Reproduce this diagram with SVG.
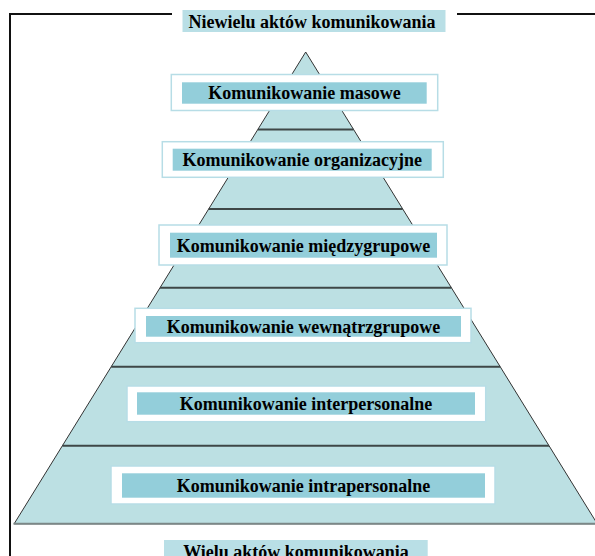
<svg xmlns="http://www.w3.org/2000/svg" width="595" height="556" viewBox="0 0 595 556">
<style>
.lbl{font-family:"Liberation Serif","Times New Roman",serif;font-weight:bold;font-size:18px;fill:#000;text-anchor:middle}
.outer{fill:#ffffff;stroke:#b7dde6;stroke-width:1.5}
.inner{fill:#93ceda}
.title{fill:#b9dfe6}
.lvl{stroke:#3e4747;stroke-width:2}
</style>
<rect width="595" height="556" fill="#ffffff"/>
<g id="frame" stroke="#111" stroke-width="2" fill="none">
<line x1="10" y1="14" x2="172" y2="14"/>
<line x1="457" y1="14" x2="595" y2="14"/>
<line x1="10" y1="13" x2="10" y2="556"/>
</g>
<g id="pyramid">
<polygon points="305.7,52 14.2,523.7 597.2,523.7" fill="#bce0e3" stroke="#333" stroke-width="1"/>
<line class="lvl" x1="257.9" y1="129.4" x2="353.5" y2="129.4"/>
<line class="lvl" x1="208.7" y1="209" x2="402.7" y2="209"/>
<line class="lvl" x1="160" y1="287.8" x2="451.4" y2="287.8"/>
<line class="lvl" x1="111.2" y1="366.7" x2="500.2" y2="366.7"/>
<line class="lvl" x1="62.4" y1="445.7" x2="549" y2="445.7"/>
<line x1="13.5" y1="523.7" x2="595" y2="523.7" stroke="#7b8787" stroke-width="2"/>
</g>
<g id="top-label">
<rect class="title" x="182.5" y="10" width="263" height="22"/>
<text class="lbl" x="312" y="27.5">Niewielu aktów komunikowania</text>
</g>
<g id="level-masowe">
<rect class="outer" x="171.3" y="74.5" width="266.4" height="36"/>
<rect class="inner" x="182" y="82.3" width="244.7" height="21.4"/>
<text class="lbl" x="304.5" y="99">Komunikowanie masowe</text>
</g>
<g id="level-organizacyjne">
<rect class="outer" x="162.3" y="141.7" width="281" height="35.6"/>
<rect class="inner" x="172.7" y="148.7" width="259" height="22"/>
<text class="lbl" x="302.2" y="166">Komunikowanie organizacyjne</text>
</g>
<g id="level-miedzygrupowe">
<rect class="outer" x="159" y="225" width="288" height="40"/>
<rect class="inner" x="170" y="232.7" width="267" height="25"/>
<text class="lbl" x="303.5" y="251.5">Komunikowanie międzygrupowe</text>
</g>
<g id="level-wewnatrzgrupowe">
<rect class="outer" x="135" y="308.3" width="336" height="34.4"/>
<rect class="inner" x="146" y="316" width="315" height="20.7"/>
<text class="lbl" x="303.5" y="332.5">Komunikowanie wewnątrzgrupowe</text>
</g>
<g id="level-interpersonalne">
<rect class="outer" x="127" y="386" width="358.7" height="35.7"/>
<rect class="inner" x="137" y="392.3" width="338" height="22.4"/>
<text class="lbl" x="306" y="410">Komunikowanie interpersonalne</text>
</g>
<g id="level-intrapersonalne">
<rect class="outer" x="111" y="466" width="384" height="38"/>
<rect class="inner" x="122" y="473.3" width="363" height="24.4"/>
<text class="lbl" x="303.5" y="492">Komunikowanie intrapersonalne</text>
</g>
<g id="bottom-label">
<rect class="title" x="164" y="540" width="263.7" height="22"/>
<text class="lbl" x="296" y="557.5">Wielu aktów komunikowania</text>
</g>
</svg>
